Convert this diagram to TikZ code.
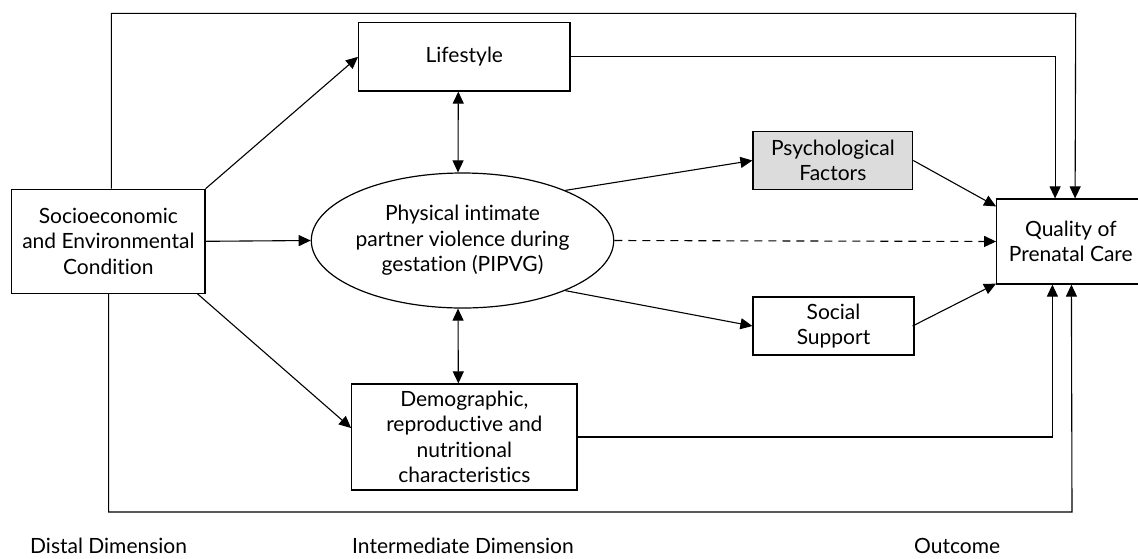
\documentclass[tikz,border=0pt]{standalone}
\usepackage{fontspec}
\setmainfont{Lato}[Ligatures={NoCommon}]
\usetikzlibrary{arrows.meta,shapes.geometric,calc}
\definecolor{psychgray}{RGB}{220,220,220}
\tikzset{
  txt/.style={font=\fontsize{21}{25.5}\selectfont},
  box/.style={txt, draw, line width=1.2pt, rectangle, inner sep=0pt, align=center},
  ellbox/.style={txt, draw, line width=1.2pt, ellipse, inner sep=0pt, align=center},
  arr/.style={line width=1.1pt, -{Triangle[length=12pt,width=11pt]}},
  biarr/.style={line width=1.1pt, {Triangle[length=12pt,width=11pt]}-{Triangle[length=12pt,width=11pt]}},
  dasharr/.style={arr, dash pattern=on 8pt off 6pt},
  lbl/.style={txt, anchor=base west, inner sep=0pt},
}
\begin{document}
\begin{tikzpicture}[x=1pt,y=-1pt]
\useasboundingbox (0,0) rectangle (1138,558);

\node[box, minimum width=193.3pt, minimum height=104pt] (socio) at (108.35,241.3) {Socioeconomic\\and Environmental\\Condition};
\node[box, minimum width=211.4pt, minimum height=68.3pt] (life) at (464.3,56.85) {Lifestyle};
\node[ellbox, minimum width=267pt, minimum height=135pt] (ell) at (462.5,240.5) {Physical intimate\\partner violence during\\gestation (PIPVG)};
\node[box, fill=psychgray, minimum width=159.7pt, minimum height=57.6pt] (psych) at (832.85,160.5) {Psychological\\Factors};
\node[box, minimum width=161pt, minimum height=58pt] (social) at (833.5,326) {Social\\Support};
\node[box, minimum width=225.3pt, minimum height=106pt] (demog) at (464.35,437) {Demographic,\\reproductive and\\nutritional\\characteristics};
\node[box, minimum width=148.3pt, minimum height=85pt] (qual) at (1070.85,241.5) {Quality of\\Prenatal Care};

\coordinate (tr) at (1075.7,13.3);
\coordinate (br) at (1072,512);

% connectors
\draw[arr] (socio.north east) -- (life.west);
\draw[arr] (socio.east) -- (ell.west);
\draw[arr] ([xshift=-8pt]socio.south east) -- ([yshift=9pt]demog.west);
\draw[biarr] ([xshift=-6pt]life.south) -- ([xshift=-4.5pt]ell.north);
\draw[biarr] ([xshift=-4.5pt]ell.south) -- ([xshift=-6pt]demog.north);
\draw[arr] (ell.26) -- (psych.west);
\draw[arr] (ell.-26) -- (social.west);
\draw[dasharr] (ell.east) -- (qual.west);
\draw[arr] (psych.east) -- ([yshift=-8pt]qual.north west);
\draw[arr] ([xshift=-2pt]social.east) -- ([yshift=1pt]qual.south west);
\draw[arr] (life.east) -| ([xshift=59pt]qual.north west);
\draw[arr] ([xshift=100.3pt]socio.north west) |- (tr) -- ([xshift=79pt]qual.north west);
\draw[arr] (demog.east) -| ([xshift=56.3pt]qual.south west);
\draw[arr] ([xshift=97.5pt]socio.south west) |- (br) -- ([xshift=75.3pt]qual.south west);

% dimension labels
\node[lbl] (distal) at (30,553) {Distal Dimension};
\node[lbl] (inter) at (352,553) {Intermediate Dimension};
\node[lbl] (outc) at (914,553) {Outcome};
\end{tikzpicture}
\end{document}
